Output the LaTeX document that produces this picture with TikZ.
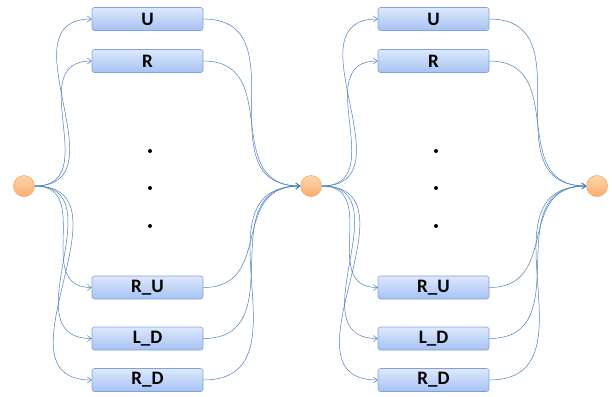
\documentclass[tikz,border=0pt]{standalone}
\usepackage{fontspec}
\setmainfont{Carlito}
\usetikzlibrary{arrows.meta}
\definecolor{edgeblue}{HTML}{4A7EBB}
\definecolor{boxtop}{HTML}{DDE8FC}
\definecolor{boxbot}{HTML}{A6C2F3}
\definecolor{boxline}{HTML}{7FA2D8}
\definecolor{orgtop}{HTML}{FDD5AE}
\definecolor{orgbot}{HTML}{F9AE6E}
\definecolor{orgline}{HTML}{F2A565}
\tikzset{
  actbox/.style={draw=boxline, line width=0.6pt, rounded corners=2.5bp, top color=boxtop, bottom color=boxbot,
    minimum width=111bp, minimum height=23bp, inner sep=0pt, font=\fontsize{19bp}{21bp}\selectfont\bfseries},
  statenode/.style={circle, draw=orgline, line width=0.6pt, top color=orgtop, bottom color=orgbot,
    minimum size=21bp, inner sep=0pt},
  dotnode/.style={circle, fill=black, inner sep=0pt, minimum size=4bp},
  arr/.style={draw=edgeblue, line width=0.5pt, -{Straight Barb[length=4bp,width=6bp]}},
}
\begin{document}
\begin{tikzpicture}[x=1bp,y=-1bp]
\useasboundingbox (0,0) rectangle (612,396);
\node[statenode] (c1) at (24,186) {};
\node[statenode] (c2) at (311,186) {};
\node[statenode] (c3) at (597,186) {};
% column 1
\node[actbox] (aU) at (147.5,19) {U};
\node[actbox] (aR) at (147.5,61) {R};
\node[actbox] (aRU) at (147.5,287.5) {R\_U};
\node[actbox] (aLD) at (147.5,338.5) {L\_D};
\node[actbox] (aRD) at (147.5,380) {R\_D};
\node[dotnode] (d1) at (150,151) {};
\node[dotnode] (d2) at (150,188) {};
\node[dotnode] (d3) at (150,226) {};
% column 2
\node[actbox] (bU) at (433.5,19) {U};
\node[actbox] (bR) at (433.5,61) {R};
\node[actbox] (bRU) at (433.5,287.5) {R\_U};
\node[actbox] (bLD) at (433.5,338.5) {L\_D};
\node[actbox] (bRD) at (433.5,380) {R\_D};
\node[dotnode] (e1) at (436,151) {};
\node[dotnode] (e2) at (436,188) {};
\node[dotnode] (e3) at (436,226) {};
% edges
\foreach \b in {aU,aR,aRU,aLD,aRD}{
  \draw[arr] (c1.east) to[out=0,in=180,looseness=1.3] (\b.west);
  \draw[arr] (\b.east) to[out=0,in=180,looseness=1.3] (c2.west);
}
\foreach \b in {bU,bR,bRU,bLD,bRD}{
  \draw[arr] (c2.east) to[out=0,in=180,looseness=1.3] (\b.west);
  \draw[arr] (\b.east) to[out=0,in=180,looseness=1.3] (c3.west);
}
\end{tikzpicture}
\end{document}
